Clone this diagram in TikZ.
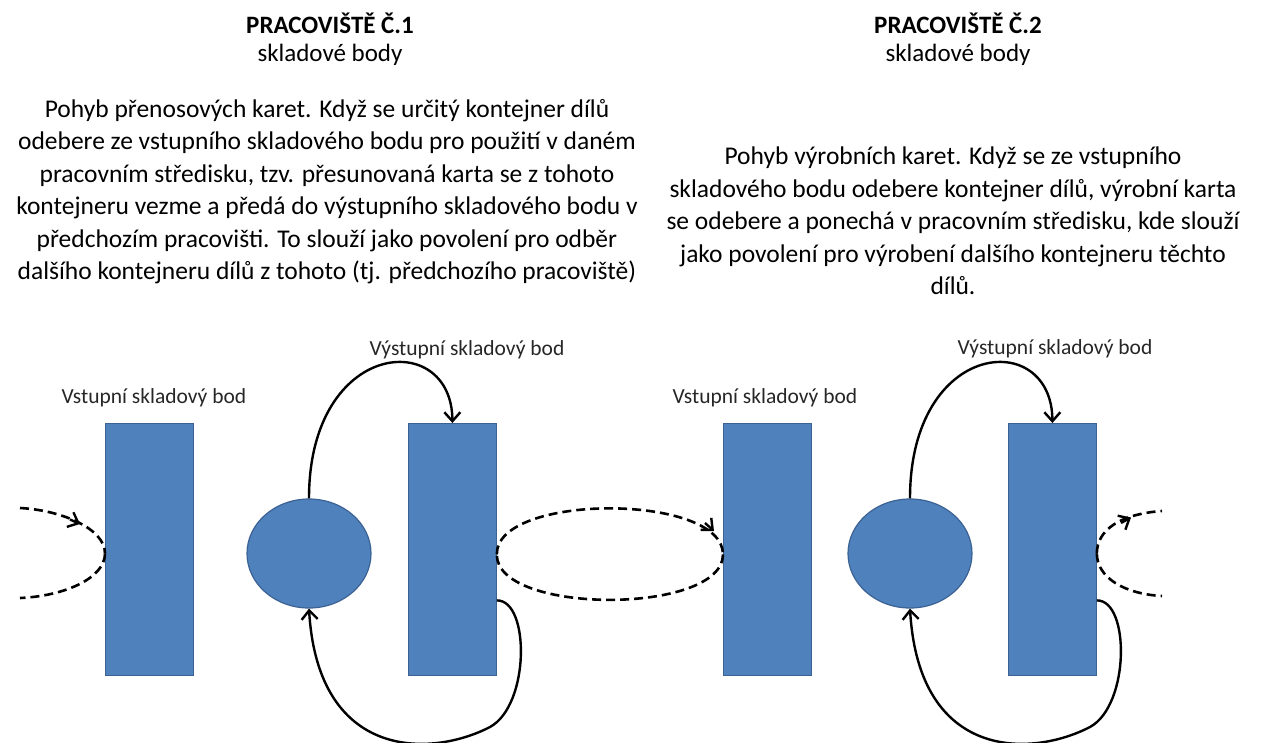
\documentclass[tikz,border=0pt]{standalone}
\usepackage{fontspec}
\setmainfont{Carlito}
\usetikzlibrary{arrows.meta,shapes.geometric}
\definecolor{boxblue}{HTML}{4F81BD}
\definecolor{boxedge}{HTML}{3B6293}
\tikzset{
  >={Straight Barb[length=9pt,width=16pt]},
  stock/.style={rectangle, fill=boxblue, draw=boxedge, line width=0.8pt,
    minimum width=88pt, minimum height=252pt, inner sep=0pt, anchor=north west},
  wcentre/.style={ellipse, fill=boxblue, draw=boxedge, line width=1.2pt,
    minimum width=124pt, minimum height=109pt, inner sep=0pt},
  ptlabel/.style={font=\fontsize{21.5}{24}\selectfont, inner sep=0pt, text=black!85},
  body/.style={align=center, inner sep=0pt, anchor=north,
    font=\fontsize{25.5}{32.5}\selectfont},
  head/.style={align=center, inner sep=0pt, anchor=north,
    font=\fontsize{25}{28}\selectfont},
  flow/.style={line width=2.4pt, ->},
  cardline/.style={line width=2.6pt, dash pattern=on 9pt off 5pt},
  cardtip/.style={line width=2.4pt, solid, ->}
}
\begin{document}
\begin{tikzpicture}[x=1pt,y=-1pt]
\useasboundingbox (0,0) rectangle (1261,742);

% headings and descriptions
\node[head] (h1) at (330,13) {\textbf{PRACOVIŠTĚ Č.1}\\skladové body};
\node[body] (p1) at (327,99) {Pohyb přenosových karet. Když se určitý kontejner dílů\\
odebere ze vstupního skladového bodu pro použití v daném\\
pracovním středisku, tzv. přesunovaná karta se z tohoto\\
kontejneru vezme a předá do výstupního skladového bodu v\\
předchozím pracovišti. To slouží jako povolení pro odběr\\
dalšího kontejneru dílů z tohoto (tj. předchozího pracoviště)};
\node[head] (h2) at (958,13) {\textbf{PRACOVIŠTĚ Č.2}\\skladové body};
\node[body] (p2) at (953,147) {Pohyb výrobních karet. Když se ze vstupního\\
skladového bodu odebere kontejner dílů, výrobní karta\\
se odebere a ponechá v pracovním středisku, kde slouží\\
jako povolení pro výrobení dalšího kontejneru těchto\\
dílů.};

% stock points and work centres
\node[stock] (r1) at (105,423) {};
\node[wcentre] (e1) at (309,553.5) {};
\node[stock] (r2) at (408,423) {};
\node[stock] (r3) at (723,423) {};
\node[wcentre] (e2) at (910,553.5) {};
\node[stock] (r4) at (1008,423) {};

\node[ptlabel] (l1) at (154,398) {Vstupní skladový bod};
\node[ptlabel] (l2) at (467,350) {Výstupní skladový bod};
\node[ptlabel] (l3) at (765,398) {Vstupní skladový bod};
\node[ptlabel] (l4) at (1055,349) {Výstupní skladový bod};

% free ends of the card loops at the picture edges
\coordinate (inTop) at (20,508);
\coordinate (inBot) at (20,598);
\coordinate (outTop) at (1162,511);
\coordinate (outBot) at (1162,596);
% direction marks on the card loops
\coordinate (inTail) at (70,519.5);
\coordinate (inTip) at (80,524);
\coordinate (midTail) at (705,523);
\coordinate (midTip) at (714,531);
\coordinate (outTail) at (1121,523);
\coordinate (outTip) at (1131,517.5);

% work centre -> output stock point, output stock point -> work centre
\draw[flow] (e1.north) .. controls (309,339) and (452,328) .. (r2.north);
\draw[flow] ([yshift=-51pt]r2.east) .. controls (530,600) and (530,705) .. (490,727)
  .. controls (430,758) and (318,760) .. (e1.south);
\draw[flow] (e2.north) .. controls (910,339) and (1052,328) .. (r4.north);
\draw[flow] ([yshift=-51pt]r4.east) .. controls (1130,600) and (1130,705) .. (1090,727)
  .. controls (1030,758) and (919,760) .. (e2.south);

% move-card loops
\draw[cardline] (inTop) .. controls (60,510) and (105,528) .. ([yshift=-4pt]r1.west);
\draw[cardline] ([yshift=-4pt]r1.west) .. controls (105,578) and (65,596) .. (inBot);
\draw[cardline] ([yshift=-5pt]r2.east) .. controls (496,493) and (723,493) .. ([yshift=-5pt]r3.west);
\draw[cardline] ([yshift=-5pt]r3.west) .. controls (723,615) and (496,615) .. ([yshift=-5pt]r2.east);
\draw[cardline] ([yshift=-4pt]r4.east) .. controls (1097,530) and (1120,514) .. (outTop);
\draw[cardline] ([yshift=-4pt]r4.east) .. controls (1097,578) and (1125,594) .. (outBot);
\draw[cardtip] (inTail) -- (inTip);
\draw[cardtip] (midTail) -- (midTip);
\draw[cardtip] (outTail) -- (outTip);
\end{tikzpicture}
\end{document}
